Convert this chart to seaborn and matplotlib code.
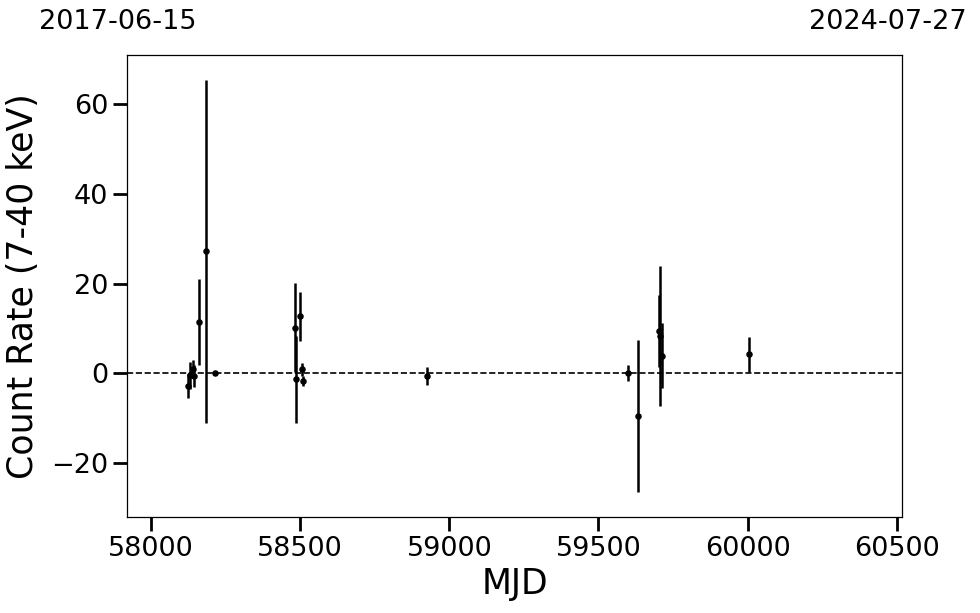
import numpy as np
import pandas as pd
import matplotlib
matplotlib.use('Agg')
import matplotlib.pyplot as plt
import seaborn as sns

# light curve values
mjd = [58125, 58131, 58141, 58145, 58162, 58185, 58215,
       58483, 58485, 58500, 58506, 58510,
       58925,
       59600, 59631, 59703, 59708, 59712,
       60006]
rate = [-2.8, -0.4, 0.9, -0.6, 11.4, 27.2, 0.0,
        10.2, -1.3, 12.7, 0.9, -1.7,
        -0.5,
        0.0, -9.5, 9.4, 8.3, 3.9,
        4.2]
rate_err = [2.7, 3.0, 2.0, 2.5, 9.5, 38.2, 0.3,
            10.0, 9.7, 5.4, 1.5, 1.2,
            2.0,
            1.8, 16.9, 8.0, 15.6, 7.2,
            3.9]
date_start = '2017-06-15'
date_end = '2024-07-27'
mjd_start = 57919
mjd_end = 60518

df = pd.DataFrame({'MJD': mjd, 'rate': rate, 'err': rate_err})

sns.set_style('ticks')
plt.rcParams['font.family'] = ['DejaVu Sans']
plt.rcParams['text.color'] = 'black'
plt.rcParams['axes.labelcolor'] = 'black'
plt.rcParams['xtick.color'] = 'black'
plt.rcParams['ytick.color'] = 'black'

fig = plt.figure(figsize=(9.8, 6.13), dpi=100)
ax = fig.add_axes([0.1296, 0.1566, 0.7908, 0.7537])

ax.errorbar(df['MJD'], df['rate'], yerr=df['err'], fmt='none',
            ecolor='black', elinewidth=1.8, capsize=0)
sns.scatterplot(data=df, x='MJD', y='rate', ax=ax, color='black',
                s=22, edgecolor='black', linewidth=0, zorder=3)
ax.axhline(0, color='black', ls='--', lw=1.2)

ax.set_xlim(mjd_start, mjd_end)
ax.set_ylim(-32, 70.9)
ax.set_xticks([58000, 58500, 59000, 59500, 60000, 60500])
ax.set_yticks([-20, 0, 20, 40, 60])
ax.set_yticklabels(['\u221220', '0', '20', '40', '60'])
ax.tick_params(axis='both', labelsize=19.5, length=10, width=2, direction='out')
for sp in ax.spines.values():
    sp.set_linewidth(0.9)
    sp.set_color('black')

ax.set_xlabel('MJD', fontsize=25, labelpad=4)
ax.set_ylabel('Count Rate (7-40 keV)', fontsize=25, labelpad=8)

fig.text(118 / 980, 1 - 22 / 613, date_start, fontsize=19.5, ha='center', va='center')
fig.text(888 / 980, 1 - 22 / 613, date_end, fontsize=19.5, ha='center', va='center')

fig.savefig('out.png', dpi=100)
